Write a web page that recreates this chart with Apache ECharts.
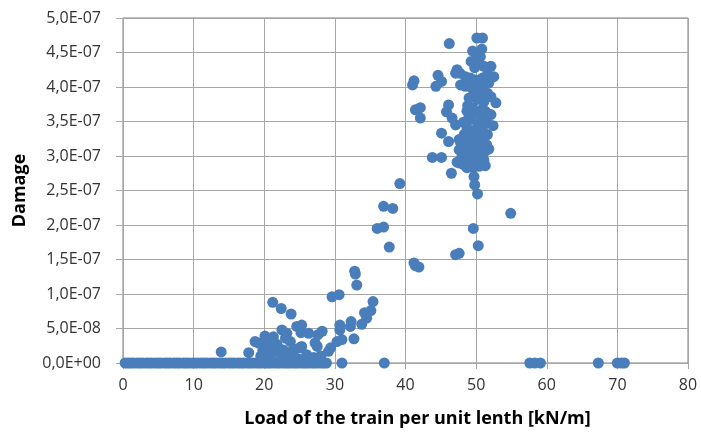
<!DOCTYPE html>
<html>
<head>
<meta charset="utf-8">
<script src="https://cdn.jsdelivr.net/npm/echarts@6/dist/echarts.min.js"></script>
<style>html,body{margin:0;padding:0;background:#fff}#chart{width:701px;height:434px}</style>
</head>
<body>
<div id="chart"></div>
<script>
// Loads [kN/m] of points with zero damage
const zeroLoads = [0.3,0.7,1.1,1.5,2.0,2.4,2.8,3.3,3.7,4.1,4.6,5.0,5.4,5.9,6.3,6.7,7.2,7.6,8.0,8.5,8.9,9.3,9.8,10.2,10.6,11.1,11.5,11.9,12.4,12.8,13.2,13.7,14.1,14.5,15.0,15.4,15.8,16.3,16.7,17.1,17.6,18.0,18.4,18.9,19.3,19.7,20.2,20.6,21.0,21.5,21.9,22.3,22.8,23.2,23.6,24.1,24.5,24.9,25.4,25.8,26.2,26.7,27.1,27.5,28.0,28.4,28.8,31.0,37.0,57.6,58.3,59.1,67.3,70.0,70.6,71.0];
// Loads [kN/m] of points with non-zero damage
const loads = [13.9,17.8,18.7,19.2,20.1,21.3,20.4,20.9,21.8,21.3,22.3,20.6,22.7,23.2,24.1,22.7,23.9,19.5,20.0,21.0,21.2,22.4,23.8,22.5,23.2,23.0,23.7,24.6,25.3,25.2,26.3,27.6,27.2,27.5,28.2,25.0,25.3,24.3,26.0,24.8,25.8,27.0,28.0,19.8,22.0,
29.1,29.4,30.3,31.0,32.7,30.7,30.7,32.2,32.3,33.8,34.5,34.2,35.1,35.4,29.6,30.6,32.8,32.9,33.1,36.0,36.9,37.7,36.9,38.2,39.2,41.2,41.4,41.9,47.1,47.6,49.6,50.3,54.9,
46.2,50.1,50.9,49.5,50.8,50.6,50.2,49.3,52.1,50.2,51.1,49.8,47.3,47.7,47.1,48.5,49.2,52.5,51.6,50.9,44.6,45.1,44.3,41.2,41.0,47.8,48.5,49.7,50.4,51.1,51.8,49.7,50.6,51.6,50.2,51.1,52.8,49.0,52.1,41.4,42.1,42.1,46.1,45.8,46.6,47.1,48.7,49.5,50.2,51.3,52.1,49.2,50.6,51.6,52.4,48.7,49.7,50.9,51.6,45.1,48.3,47.6,48.7,50.2,51.1,46.1,47.8,48.7,49.7,50.6,51.5,51.8,47.6,48.5,49.5,50.4,51.3,49.0,49.9,50.9,49.2,50.2,51.1,51.3,47.6,48.3,48.7,49.5,50.4,43.8,45.1,46.5,49.7,49.8,50.2,47.3,47.8,
50.0,49.5,51.0,48.8,50.9,49.0,50.2,48.2,51.3,48.0,49.3,50.7];
// Damage values for the loads above, in units of 1E-08
const damagesE8 = [1.6,1.5,3.1,2.9,3.9,3.8,2.9,2.4,2.7,1.7,1.4,1.2,1.9,1.2,1.0,0.5,1.7,1.0,0.6,0.8,8.8,7.9,7.1,4.8,4.3,3.6,3.1,5.3,5.5,4.4,4.3,4.1,2.9,2.4,4.6,2.2,2.4,2.0,1.2,0.6,0.4,0.8,1.0,1.8,2.2,
1.7,2.2,3.1,3.4,3.5,4.8,5.5,5.3,6.0,5.6,6.5,7.3,7.6,8.9,9.6,9.9,13.3,12.9,11.3,19.5,19.7,16.8,22.7,22.4,26.0,14.5,14.1,13.9,15.7,15.9,19.5,17.0,21.7,
46.3,47.1,47.1,45.2,45.5,44.4,44.2,43.7,43.0,43.2,43.0,42.8,42.5,42.0,42.0,41.5,41.3,41.5,41.8,41.3,41.7,40.8,40.1,40.9,40.3,40.3,40.1,40.6,40.1,40.3,40.6,39.4,38.9,39.1,38.2,37.9,37.7,38.4,38.6,36.7,37.0,35.5,37.4,36.4,35.5,34.5,36.5,37.0,36.2,36.5,36.0,35.3,35.0,34.8,34.4,34.1,33.6,33.8,33.1,33.3,33.1,32.4,32.4,32.4,32.1,32.1,31.9,31.9,31.9,31.8,31.6,31.0,30.9,31.2,30.9,31.0,30.7,30.2,30.2,29.9,29.2,29.0,29.4,28.6,29.0,28.7,28.3,28.3,28.5,29.8,29.8,27.5,27.0,25.8,24.5,29.1,29.0,
41.0,39.8,39.5,37.3,36.8,35.8,34.3,34.9,35.3,30.0,32.8,33.2];
const xTicks = [0,10,20,30,40,50,60,70,80];
const yTickLabels = ['0,0E+00','5,0E-08','1,0E-07','1,5E-07','2,0E-07','2,5E-07','3,0E-07','3,5E-07','4,0E-07','4,5E-07','5,0E-07'];
const xTitle = 'Load of the train per unit lenth [kN/m]';
const yTitle = 'Damage';

const E8 = 1e-8;
const points = zeroLoads.map(x => [x, 0]).concat(loads.map((x, i) => [x, damagesE8[i] * E8]));

const chart = echarts.init(document.getElementById('chart'), null, {renderer: 'canvas'});
const font = '"Open Sans", sans-serif';
chart.setOption({
  animation: false,
  backgroundColor: '#ffffff',
  grid: {left: 123, right: 13, top: 18, bottom: 71, show: true, borderColor: '#7f7f7f', borderWidth: 1, containLabel: false},
  xAxis: {
    type: 'value', min: xTicks[0], max: xTicks[xTicks.length - 1], interval: 10,
    name: xTitle, nameLocation: 'middle', nameGap: 47,
    nameTextStyle: {fontFamily: font, fontSize: 18, fontWeight: 'bold', color: '#000', padding: [0, 0, 0, 24]},
    axisLine: {show: true, lineStyle: {color: '#a6a6a6'}},
    axisTick: {show: true, inside: false, length: 6, lineStyle: {color: '#a6a6a6'}},
    axisLabel: {fontFamily: font, fontSize: 16, color: '#333333', margin: 14},
    splitLine: {show: true, lineStyle: {color: '#a6a6a6', width: 1}}
  },
  yAxis: {
    type: 'value', min: 0, max: 5e-7, interval: 5e-8,
    name: yTitle, nameLocation: 'middle', nameGap: 94,
    nameTextStyle: {fontFamily: font, fontSize: 18, fontWeight: 'bold', color: '#000'},
    axisLine: {show: true, lineStyle: {color: '#a6a6a6'}},
    axisTick: {show: true, inside: false, length: 7, lineStyle: {color: '#a6a6a6'}},
    axisLabel: {fontFamily: font, fontSize: 16, color: '#333333', margin: 22,
      formatter: (v) => yTickLabels[Math.round(v / 5e-8)]},
    splitLine: {show: true, lineStyle: {color: '#a6a6a6', width: 1}}
  },
  series: [{
    type: 'scatter', data: points, symbol: 'circle', symbolSize: 11,
    itemStyle: {color: '#4a7ebb', opacity: 1}
  }]
});
</script>
</body>
</html>
